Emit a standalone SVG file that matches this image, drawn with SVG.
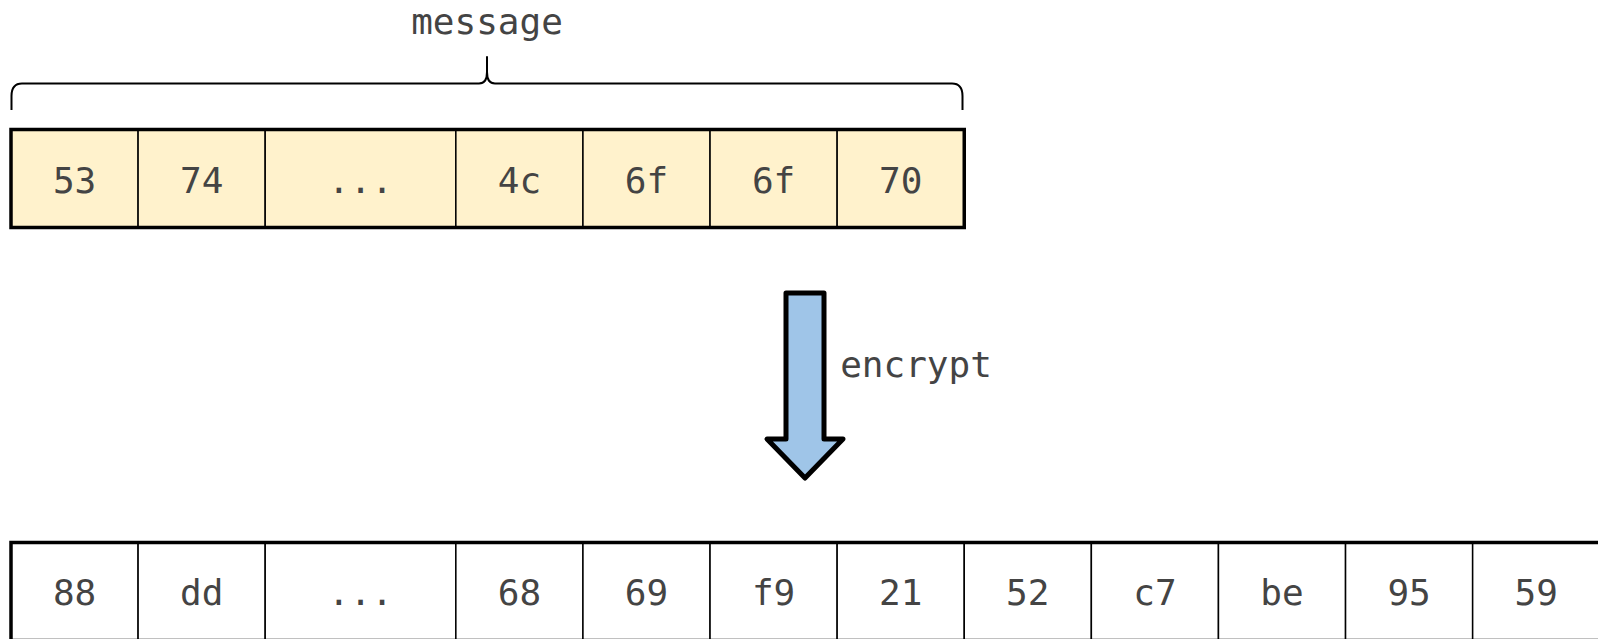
<svg xmlns="http://www.w3.org/2000/svg" width="1598" height="639" viewBox="0 0 1598 639">
  <style>
    .lbl { font-family: "DejaVu Sans Mono", "Liberation Mono", monospace; font-size: 36px; fill: #444; text-anchor: middle; }
    .cell { stroke: #000; stroke-width: 1.5; }
    .plain { fill: #ffffff; }
    .msg { fill: #fff2cc; }
    .frame { fill: none; stroke: #000; stroke-width: 3.5; }
  </style>

  <!-- brace over the message bytes -->
  <g id="message-label">
    <text class="lbl" x="487" y="34">message</text>
    <path d="M11.5,110 L11.5,96 Q11.5,83.5 22,83.5 L479,83.5 Q487,83.5 487,72 L487,57 L487,72 Q487,83.5 495,83.5 L952,83.5 Q962.5,83.5 962.5,96 L962.5,110" fill="none" stroke="#000" stroke-width="2" stroke-linejoin="round"/>
  </g>

  <!-- plaintext bytes -->
  <g id="plaintext">
    <g id="p0"><rect class="cell msg" x="11" y="129.5" width="127.1" height="98"/><text class="lbl" x="74.6" y="192.5">53</text></g>
    <g id="p1"><rect class="cell msg" x="138.1" y="129.5" width="127.1" height="98"/><text class="lbl" x="201.7" y="192.5">74</text></g>
    <g id="p2"><rect class="cell msg" x="265.2" y="129.5" width="190.65" height="98"/><text class="lbl" x="360.5" y="192.5">...</text></g>
    <g id="p3"><rect class="cell msg" x="455.85" y="129.5" width="127.1" height="98"/><text class="lbl" x="519.4" y="192.5">4c</text></g>
    <g id="p4"><rect class="cell msg" x="582.95" y="129.5" width="127.1" height="98"/><text class="lbl" x="646.5" y="192.5">6f</text></g>
    <g id="p5"><rect class="cell msg" x="710.05" y="129.5" width="127.1" height="98"/><text class="lbl" x="773.6" y="192.5">6f</text></g>
    <g id="p6"><rect class="cell msg" x="837.15" y="129.5" width="127.1" height="98"/><text class="lbl" x="900.7" y="192.5">70</text></g>
    <rect class="frame" x="11" y="129.5" width="953.25" height="98"/>
  </g>

  <!-- encrypt arrow -->
  <g id="connectors">
    <path d="M786,293 L824,293 L824,439 L843,439 L805,478 L767,439 L786,439 Z" fill="#9fc5e8" stroke="#000" stroke-width="5" stroke-linejoin="round"/>
    <text class="lbl" x="916" y="377">encrypt</text>
  </g>

  <!-- ciphertext bytes -->
  <g id="ciphertext">
    <g id="c0"><rect class="cell plain" x="11" y="542.5" width="127.1" height="98"/><text class="lbl" x="74.6" y="605">88</text></g>
    <g id="c1"><rect class="cell plain" x="138.1" y="542.5" width="127.1" height="98"/><text class="lbl" x="201.7" y="605">dd</text></g>
    <g id="c2"><rect class="cell plain" x="265.2" y="542.5" width="190.65" height="98"/><text class="lbl" x="360.5" y="605">...</text></g>
    <g id="c3"><rect class="cell plain" x="455.85" y="542.5" width="127.1" height="98"/><text class="lbl" x="519.4" y="605">68</text></g>
    <g id="c4"><rect class="cell plain" x="582.95" y="542.5" width="127.1" height="98"/><text class="lbl" x="646.5" y="605">69</text></g>
    <g id="c5"><rect class="cell plain" x="710.05" y="542.5" width="127.1" height="98"/><text class="lbl" x="773.6" y="605">f9</text></g>
    <g id="c6"><rect class="cell plain" x="837.15" y="542.5" width="127.1" height="98"/><text class="lbl" x="900.7" y="605">21</text></g>
    <g id="c7"><rect class="cell plain" x="964.25" y="542.5" width="127.1" height="98"/><text class="lbl" x="1027.8" y="605">52</text></g>
    <g id="c8"><rect class="cell plain" x="1091.35" y="542.5" width="127.1" height="98"/><text class="lbl" x="1154.9" y="605">c7</text></g>
    <g id="c9"><rect class="cell plain" x="1218.45" y="542.5" width="127.1" height="98"/><text class="lbl" x="1282" y="605">be</text></g>
    <g id="c10"><rect class="cell plain" x="1345.55" y="542.5" width="127.1" height="98"/><text class="lbl" x="1409.1" y="605">95</text></g>
    <g id="c11"><rect class="cell plain" x="1472.65" y="542.5" width="127.1" height="98"/><text class="lbl" x="1536.2" y="605">59</text></g>
    <rect class="frame" x="11" y="542.5" width="1588.75" height="98"/>
  </g>
</svg>
